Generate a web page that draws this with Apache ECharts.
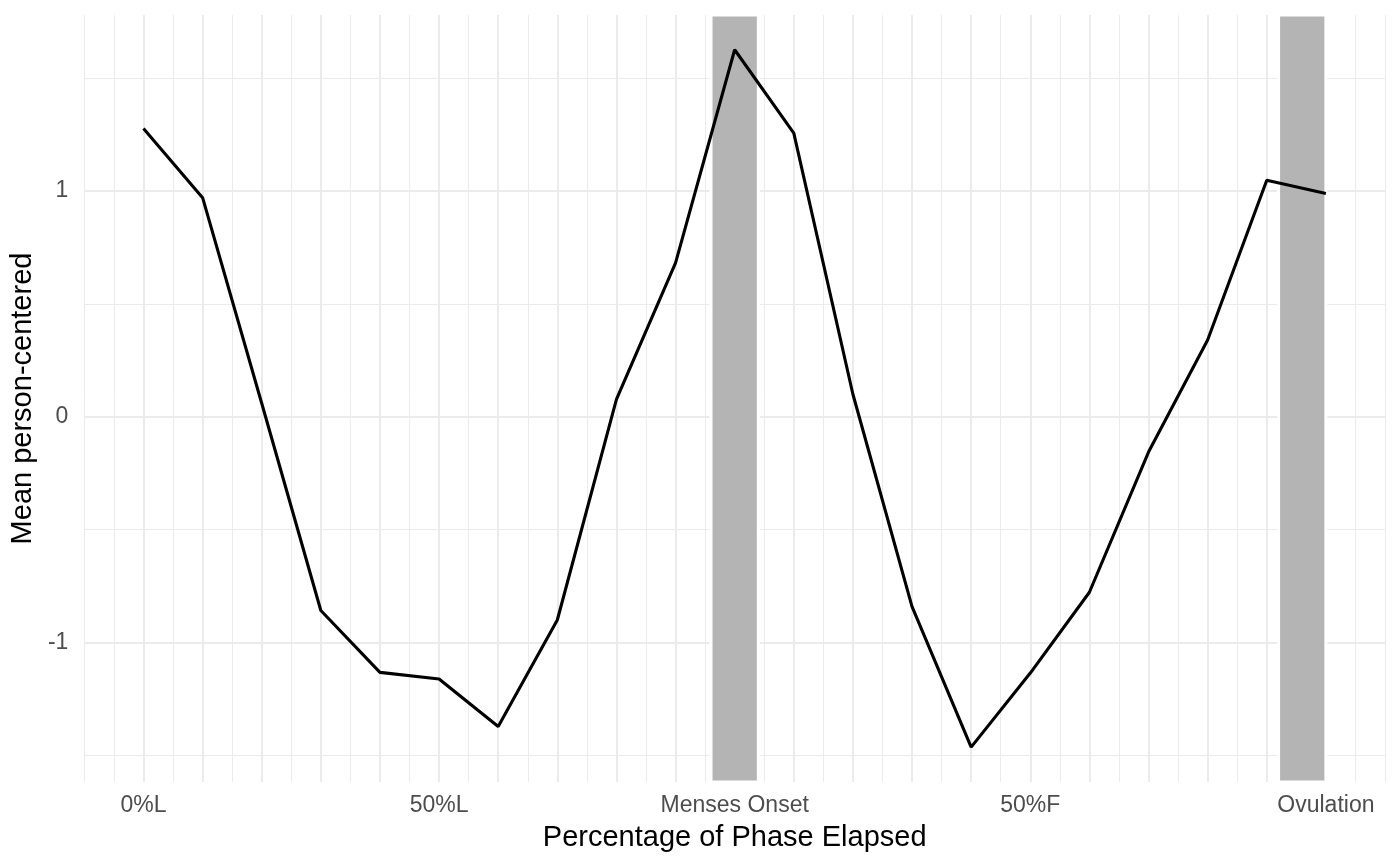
<!DOCTYPE html>
<html>
<head>
<meta charset="utf-8">
<script src="https://cdn.jsdelivr.net/npm/echarts@6/dist/echarts.min.js"></script>
<style>
html,body{margin:0;padding:0;background:#fff;}
#chart{width:1400px;height:866px;}
</style>
</head>
<body>
<div id="chart"></div>
<script>
// ---- data ----
const xValues = [0,1,2,3,4,5,6,7,8,9,10,11,12,13,14,15,16,17,18,19,20];
const yValues = [1.277,0.971,0.06,-0.858,-1.132,-1.161,-1.372,-0.900,0.077,0.682,1.626,1.257,0.100,-0.841,-1.463,-1.135,-0.777,-0.156,0.340,1.048,0.989];
const tickPositions = [0,5,10,15,20];
const tickLabels = ['0%L','50%L','Menses Onset','50%F','Ovulation'];
const bandStarts = [9.6, 19.2];
const bandEnds = [10.4, 20.0];
const xTitle = 'Percentage of Phase Elapsed';
const yTitle = 'Mean person-centered';

const FONT = '"Liberation Sans", Arial, Helvetica, sans-serif';
const GRID = '#EBEBEB';
const yMin = -1.6175, yMax = 1.78;

const chart = echarts.init(document.getElementById('chart'), null, {renderer:'canvas'});
const lineData = xValues.map((x,i)=>[x, yValues[i]]);
const bands = bandStarts.map((s,i)=>[{xAxis:s},{xAxis:bandEnds[i]}]);

chart.setOption({
  animation:false,
  backgroundColor:'#fff',
  grid:{left:81, right:15, top:15, bottom:84, containLabel:false},
  xAxis:[
    {
      type:'value', min:-1, max:21, interval:1, position:'bottom',
      axisLine:{show:false}, axisTick:{show:false},
      splitLine:{show:true, showMinLine:false, showMaxLine:false, lineStyle:{color:GRID, width:2}},
      axisLabel:{
        show:true, margin:12, color:'#4D4D4D', fontSize:23, fontFamily:FONT,
        formatter:function(v){
          const i = tickPositions.indexOf(Math.round(v*1000)/1000);
          return i>=0 ? tickLabels[i] : '';
        }
      },
      name:xTitle, nameLocation:'middle', nameGap:41,
      nameTextStyle:{color:'#000', fontSize:29, fontFamily:FONT}
    },
    {
      type:'value', min:-1, max:21, interval:0.5, position:'bottom',
      axisLine:{show:false}, axisTick:{show:false}, axisLabel:{show:false},
      splitLine:{show:true, lineStyle:{color:GRID, width:1}}
    }
  ],
  yAxis:[
    {
      type:'value', min:yMin, max:yMax, splitNumber:3,
      axisLine:{show:false}, axisTick:{show:false},
      splitLine:{show:true, showMinLine:false, showMaxLine:false, lineStyle:{color:GRID, width:2}},
      axisLabel:{
        show:true, margin:16, color:'#4D4D4D', fontSize:23, fontFamily:FONT,
        showMinLabel:false, showMaxLabel:false,
        formatter:function(v){
          return Math.abs(v-Math.round(v))<1e-6 ? String(Math.round(v)) : '';
        }
      },
      name:yTitle, nameLocation:'middle', nameGap:45, nameRotate:90,
      nameTextStyle:{color:'#000', fontSize:29, fontFamily:FONT}
    },
    {
      type:'value', min:yMin, max:yMax, splitNumber:7,
      axisLine:{show:false}, axisTick:{show:false}, axisLabel:{show:false},
      splitLine:{show:true, showMinLine:false, showMaxLine:false, lineStyle:{color:GRID, width:1}}
    }
  ],
  series:[
    {
      type:'line', xAxisIndex:0, yAxisIndex:0,
      data:lineData, symbol:'none', smooth:false, z:3,
      lineStyle:{color:'#000', width:3.1},
      emphasis:{disabled:true},
      markArea:{
        silent:true,
        itemStyle:{color:'#B4B4B4', borderColor:'#FFFFFF', borderWidth:3},
        label:{show:false},
        emphasis:{disabled:true},
        data:bands
      }
    }
  ]
});
</script>
</body>
</html>
